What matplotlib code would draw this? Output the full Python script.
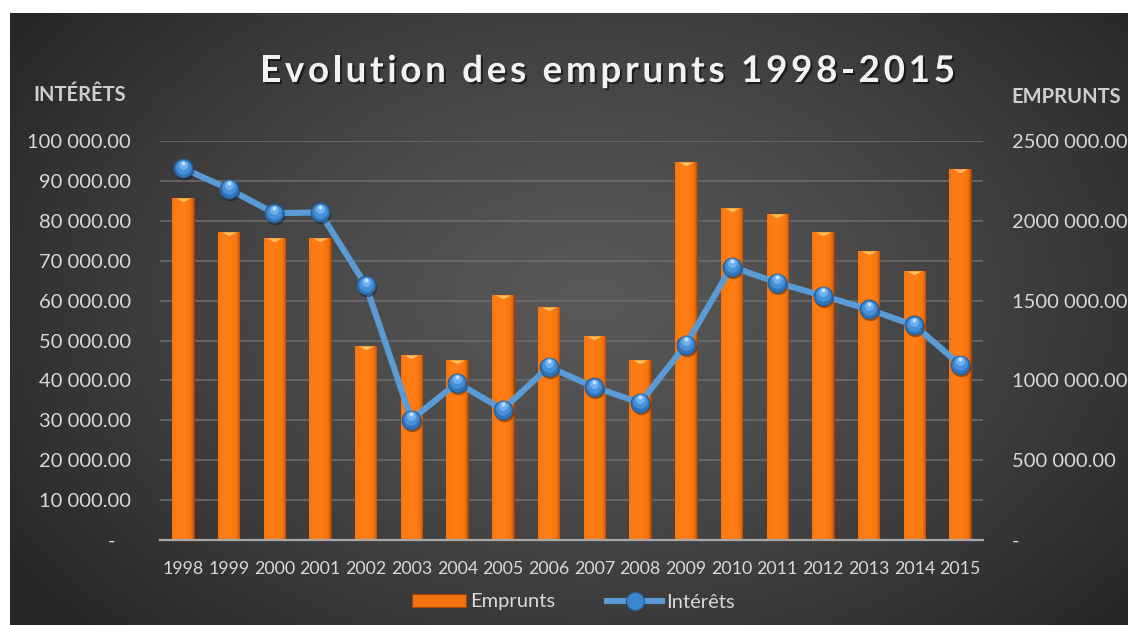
import matplotlib
matplotlib.use('Agg')
import matplotlib.pyplot as plt
import numpy as np
from matplotlib import transforms, patheffects as pe
from matplotlib.colors import LinearSegmentedColormap
from matplotlib.lines import Line2D
from matplotlib.patches import Patch
from matplotlib.path import Path
from matplotlib.font_manager import FontProperties

# ---------------- data ----------------
years = ['1998', '1999', '2000', '2001', '2002', '2003', '2004', '2005', '2006',
         '2007', '2008', '2009', '2010', '2011', '2012', '2013', '2014', '2015']
emprunts = [2142000, 1930000, 1890000, 1890000, 1215000, 1160000, 1128000, 1535000,
            1460000, 1278000, 1125000, 2368000, 2080000, 2040000, 1928000, 1808000,
            1683000, 2325000]
interets = [93200, 88000, 81900, 82100, 63900, 30200, 39400, 32700, 43400,
            38300, 34400, 48900, 68500, 64500, 61200, 57800, 53800, 43900]

left_tick_values = [0, 10000, 20000, 30000, 40000, 50000, 60000, 70000, 80000, 90000, 100000]
left_tick_labels = ['-   ', '10 000.00', '20 000.00', '30 000.00', '40 000.00', '50 000.00',
                    '60 000.00', '70 000.00', '80 000.00', '90 000.00', '100 000.00']
right_tick_values = [0, 500000, 1000000, 1500000, 2000000, 2500000]
right_tick_labels = ['-', '500 000.00', '1000 000.00', '1500 000.00', '2000 000.00', '2500 000.00']

title = 'Evolution des emprunts 1998-2015'
left_title = 'INTÉRÊTS'
right_title = 'EMPRUNTS'
series_names = ['Emprunts', 'Intérêts']

# ---------------- style ----------------
FONT = 'Lato'
plt.rcParams['font.family'] = [FONT, 'DejaVu Sans']
TXT = '#d9d9d9'
W, H = 1128, 625

fig = plt.figure(figsize=(W / 100, H / 100), dpi=100, facecolor='white')

# background radial gradient
bg = fig.add_axes([10 / W, 0, (W - 10) / W, (H - 13) / H], zorder=-10)
xs = np.arange(10, W) + 0.5
ys = np.arange(13, H) + 0.5
X, Y = np.meshgrid(xs, ys)
r = np.sqrt(((X - 590) / 700) ** 2 + ((Y - 300) / 480) ** 2)
r = np.clip(r, 0, 1)
inten = 0.345 - (0.345 - 0.15) * r ** 1.3
img = np.dstack([inten, inten, inten])
bg.imshow(img, extent=[0, 1, 0, 1], aspect='auto', origin='upper')
bg.axis('off')

rect = [160 / W, 1 - 540 / H, (983 - 160) / W, 399 / H]
ax = fig.add_axes(rect)
ax2 = ax.twinx()
ax.set_zorder(2)
ax2.set_zorder(1)
ax.patch.set_visible(False)
ax2.patch.set_visible(False)

pos = np.arange(len(years))

# bars (right axis)
bars = ax2.bar(pos, emprunts, width=0.47, color='#f2720f', edgecolor='#9e4508',
               linewidth=0.8, zorder=2)
orange = LinearSegmentedColormap.from_list('o', ['#a9490a', '#dc620c', '#f7760f', '#ff7d14'])
t = np.linspace(0, 1, 64)
prof = np.clip(1 - ((t - 0.42) / 0.58) ** 2, 0, 1) ** 0.6
grad = prof[np.newaxis, :]
for b in bars:
    x0, w, h = b.get_x(), b.get_width(), b.get_height()
    im = ax2.imshow(grad, extent=[x0, x0 + w, 0, h], aspect='auto', cmap=orange,
                    vmin=0, vmax=1, zorder=2.1, interpolation='bilinear')
    im.set_clip_path(b)
# bevel triangles on top of bars
tri = Path([(-1, 0), (1, 0), (0, -0.5), (-1, 0)], [1, 2, 2, 79])
ax2.scatter(pos, emprunts, marker=tri, s=110, color='#ffc266', linewidths=0, zorder=2.3)

# gridlines (behind bars)
ax2.set_yticks(right_tick_values, right_tick_labels)
ax2.set_yticks(np.arange(0, 2500001, 250000), minor=True)
ax2.grid(True, which='both', axis='y', color='#6e6e6e', linewidth=1.1, zorder=0)
ax2.set_axisbelow(True)
ax2.set_ylim(0, 2500000)
ax2.tick_params(axis='y', which='both', length=0, pad=21, labelsize=14.5, labelcolor=TXT)
for lbl in ax2.get_yticklabels():
    lbl.set_ha('left')

# line (left axis)
ax.plot(pos, interets, color='#5b9bd5', linewidth=4.4, zorder=3, solid_joinstyle='round')
def off(dx, dy):
    return transforms.offset_copy(ax.transData, fig=fig, x=dx, y=dy, units='dots')
ax.plot(pos, interets, ls='none', marker='o', ms=14, mfc='black', mec='none', alpha=0.35,
        transform=off(1, -2), zorder=3.5)
ax.plot(pos, interets, ls='none', marker='o', ms=13.5, mfc='#2f73bb', mec='#285d95',
        mew=0.8, zorder=4)
ax.plot(pos, interets, ls='none', marker='o', ms=10.5, mfc='#4690da', mec='none',
        transform=off(0, 1.5), zorder=4.1)
ax.plot(pos, interets, ls='none', marker='o', ms=6.5, mfc='#6fb1ee', mec='none',
        transform=off(0, 3.5), zorder=4.2)
ax.plot(pos, interets, ls='none', marker='o', ms=2.8, mfc='#bfe2ff', mec='none',
        transform=off(0, 5.5), zorder=4.3)

ax.set_ylim(0, 100000)
ax.set_xlim(-0.5, len(years) - 0.5)
ax.set_yticks(left_tick_values, left_tick_labels)
ax.tick_params(axis='y', length=0, pad=21, labelsize=14.5, labelcolor=TXT)
ax.set_xticks(pos, years)
ax.tick_params(axis='x', length=0, pad=15, labelsize=12.8, labelcolor=TXT)

for a in (ax, ax2):
    for s in a.spines.values():
        s.set_visible(False)
ax.spines['bottom'].set_visible(True)
ax.spines['bottom'].set_color('#a8a8a8')
ax.spines['bottom'].set_linewidth(1.6)

# axis titles
fig.text(80 / W, 1 - 95 / H, left_title, ha='center', va='center', fontsize=14.5,
         fontweight='bold', color='#cfcfcf')
fig.text(1011 / W, 1 - 97 / H, right_title, ha='left', va='center', fontsize=14.5,
         fontweight='bold', color='#cfcfcf')

# title with letter spacing
fig.canvas.draw()
renderer = fig.canvas.get_renderer()
fp = FontProperties(family=FONT, weight='bold', size=26.5)
def tw(s):
    w, h, d = renderer.get_text_width_height_descent(s, fp, ismath=False)
    return w
natural = tw(title)
target_left, target_right = 260, 955
sp = ((target_right - target_left) - natural) / (len(title) - 1)
for i, ch in enumerate(title):
    if ch == ' ':
        continue
    left = tw(title[:i + 1]) - tw(ch)
    xpix = target_left + left + i * sp
    fig.text(xpix / W, 1 - 82 / H, ch, ha='left', va='baseline', fontproperties=fp,
             color='#f2f2f2',
             path_effects=[pe.SimplePatchShadow(offset=(1.5, -1.5), shadow_rgbFace='black', alpha=0.55),
                           pe.Normal()])

# legend
handles = [Patch(facecolor='#f2720f', edgecolor='#9e4508', linewidth=0.8),
           Line2D([0], [0], color='#5b9bd5', lw=4.4, marker='o', ms=13, mfc='#3c86d0',
                  mec='#285d95', mew=0.8)]
fig.legend(handles, series_names, loc='center', bbox_to_anchor=(573 / W, 1 - 602 / H),
           ncol=2, frameon=False, fontsize=14.5, labelcolor=TXT, handlelength=2.7,
           handleheight=0.6, columnspacing=2.6, handletextpad=0.2)

fig.savefig('out.png', dpi=100, facecolor='white')
